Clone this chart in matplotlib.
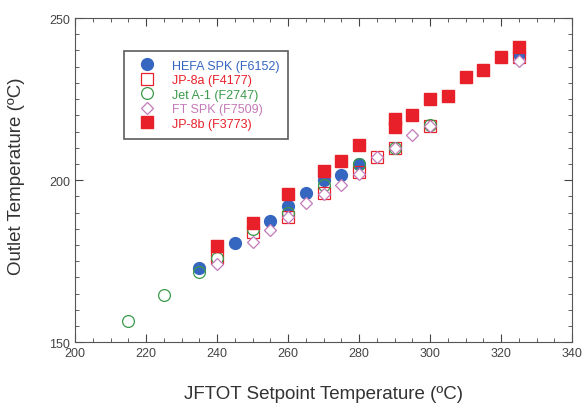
import matplotlib.pyplot as plt
from matplotlib.ticker import MultipleLocator

plt.rcParams['font.family'] = ['Liberation Sans', 'DejaVu Sans']

# HEFA SPK (F6152)
hefa_x = [235, 245, 255, 260, 265, 270, 275, 280, 325]
hefa_y = [173, 180.5, 187.5, 192, 196, 200, 201.5, 205, 239]
# JP-8a (F4177)
jp8a_x = [240, 250, 260, 270, 280, 285, 290, 300, 325]
jp8a_y = [176, 184, 188.5, 196, 202.5, 207, 210, 216.7, 238]
# Jet A-1 (F2747)
jeta_x = [215, 225, 235, 240, 250, 260, 270, 280, 290, 300]
jeta_y = [156.5, 164.5, 171.8, 176, 185, 190, 198.5, 205, 210, 217]
# FT SPK (F7509)
ft_x = [240, 250, 255, 260, 265, 270, 275, 280, 285, 290, 295, 300, 325]
ft_y = [174, 181, 184.5, 188.6, 192.8, 195.7, 198.5, 202, 207, 210, 214, 216.7, 236.7]
# JP-8b (F3773)
jp8b_x = [240, 250, 260, 270, 275, 280, 290, 290, 295, 300, 305, 310, 315, 320, 325]
jp8b_y = [179.8, 186.8, 195.8, 202.8, 206, 210.8, 216.5, 219, 220, 225, 226, 231.8, 234, 238, 241]

blue = "#3566c0"
red = "#e8202a"
green = "#3a9a4a"
pink = "#c47ab8"

fig = plt.figure(figsize=(5.82, 4.14), dpi=100)
ax = fig.add_axes([0.129, 0.171, 0.854, 0.783])

ms = 8.5
ax.plot(hefa_x, hefa_y, "o", color=blue, ms=ms, mec=blue, label="HEFA SPK (F6152)", zorder=3)
ax.plot(jp8a_x, jp8a_y, "s", mfc="none", mec=red, ms=ms, mew=0.9, label="JP-8a (F4177)", zorder=4)
ax.plot(jeta_x, jeta_y, "o", mfc="none", mec=green, ms=ms, mew=0.9, label="Jet A-1 (F2747)", zorder=5)
ax.plot(ft_x, ft_y, "D", mfc="white", mec=pink, ms=6.5, mew=0.9, label="FT SPK (F7509)", zorder=6)
ax.plot(jp8b_x, jp8b_y, "s", color=red, ms=ms, label="JP-8b (F3773)", zorder=7)

ax.set_xlim(200, 340)
ax.set_ylim(150, 250)
ax.xaxis.set_major_locator(MultipleLocator(20))
ax.xaxis.set_minor_locator(MultipleLocator(5))
ax.yaxis.set_major_locator(MultipleLocator(50))
ax.yaxis.set_minor_locator(MultipleLocator(5))
ax.tick_params(which="both", direction="in", top=True, right=True, labelsize=9,
               color="#444444", labelcolor="#444444")
ax.tick_params(which="major", length=6)
ax.tick_params(which="minor", length=3)
for s in ax.spines.values():
    s.set_color("#555555")

ax.set_xlabel("JFTOT Setpoint Temperature (ºC)", fontsize=13.5, labelpad=19, color="#333333")
ax.set_ylabel("Outlet Temperature (ºC)", fontsize=13.5, color="#333333")
ax.yaxis.set_label_coords(-0.10, 0.515)

leg = ax.legend(loc="upper left", bbox_to_anchor=(0.099, 0.898), fontsize=9, frameon=True,
                fancybox=False, edgecolor="#333333", handletextpad=0.9, borderpad=0.7,
                labelspacing=0.2, borderaxespad=0, handlelength=2.2)
leg.get_frame().set_linewidth(1.2)
for t, c in zip(leg.get_texts(), [blue, red, green, pink, red]):
    t.set_color(c)

fig.savefig("out.png")
